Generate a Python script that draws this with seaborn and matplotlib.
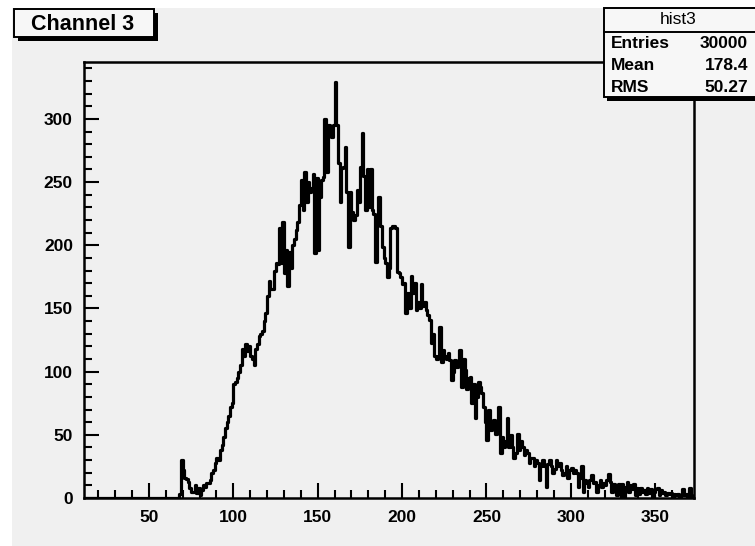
import numpy as np
import pandas as pd
import matplotlib
matplotlib.use("Agg")
import matplotlib.pyplot as plt
from matplotlib.patches import Rectangle
from matplotlib.ticker import MultipleLocator
import seaborn as sns

# ---- data (bin contents, 1-unit bins starting at channel 68) ----
first_channel = 68
counts = [
    3, 30, 22, 16, 15, 13, 8, 5, 5, 10,
    4, 8, 2, 6, 10, 9, 12, 12, 14, 20,
    22, 28, 32, 30, 38, 42, 48, 55, 60, 65,
    72, 75, 90, 92, 95, 100, 105, 118, 112, 122,
    116, 120, 112, 110, 105, 118, 122, 128, 130, 132,
    140, 146, 160, 172, 165, 165, 180, 186, 185, 214,
    186, 218, 178, 196, 168, 195, 182, 200, 205, 212,
    218, 232, 252, 228, 258, 234, 250, 242, 245, 256,
    194, 253, 196, 238, 252, 254, 300, 258, 295, 289,
    286, 295, 329, 295, 265, 234, 261, 262, 278, 242,
    199, 242, 226, 220, 224, 244, 234, 262, 289, 255,
    228, 260, 230, 260, 228, 225, 187, 218, 238, 215,
    199, 190, 186, 175, 182, 214, 215, 215, 214, 179,
    178, 175, 169, 170, 146, 162, 150, 176, 162, 170,
    149, 155, 150, 169, 152, 155, 149, 145, 141, 123,
    130, 112, 110, 112, 135, 108, 117, 112, 110, 115,
    109, 93, 100, 109, 104, 106, 117, 88, 110, 101,
    86, 95, 96, 75, 90, 63, 80, 92, 88, 83,
    72, 60, 46, 70, 54, 60, 62, 51, 58, 72,
    36, 48, 40, 45, 63, 40, 50, 40, 32, 36,
    51, 38, 45, 40, 34, 38, 36, 28, 32, 32,
    25, 30, 28, 14, 25, 30, 25, 9, 27, 30,
    25, 20, 23, 30, 25, 28, 22, 18, 20, 25,
    16, 22, 24, 20, 22, 20, 9, 16, 25, 5,
    14, 12, 9, 14, 18, 12, 13, 5, 10, 14,
    9, 12, 10, 14, 19, 13, 5, 11, 8, 2,
    11, 6, 11, 1, 9, 13, 5, 10, 7, 11,
    2, 8, 3, 8, 5, 6, 3, 8, 4, 7,
    1, 5, 7, 8, 2, 6, 4, 5, 2, 4,
    3, 4, 1, 3, 2, 3, 1, 2, 7, 2,
    3, 1, 8, 2, 1,
]
hist_lo, hist_hi = 12, 373
x_ticks = [50, 100, 150, 200, 250, 300, 350]
y_ticks = [0, 50, 100, 150, 200, 250, 300]
title_text = "Channel 3"
stats_name = "hist3"
stats_rows = [("Entries", "30000"), ("Mean", "178.4"), ("RMS", "50.27")]

df = pd.DataFrame({
    "channel": np.arange(first_channel, first_channel + len(counts)) + 0.5,
    "count": counts,
})

W, H = 755, 546
BG = "#f0f0f0"
sns.set_theme(style="white")
plt.rcParams["font.family"] = ["Liberation Sans", "DejaVu Sans"]

fig = plt.figure(figsize=(W / 100, H / 100), dpi=100, facecolor="white")

def px_rect(x0, y0, x1, y1, **kw):
    r = Rectangle((x0 / W, 1 - y1 / H), (x1 - x0) / W, (y1 - y0) / H,
                  transform=fig.transFigure, **kw)
    fig.add_artist(r)
    return r

# canvas background
px_rect(12, 8, W + 5, H + 5, facecolor=BG, edgecolor="none", zorder=0)

ax = fig.add_axes([84 / W, 1 - 498 / H, (694 - 84) / W, (498 - 62) / H])
ax.set_facecolor(BG)
ax.patch.set_alpha(0)

sns.histplot(data=df, x="channel", weights="count",
             bins=hist_hi - hist_lo, binrange=(hist_lo, hist_hi),
             element="step", fill=False,
             color="black", linewidth=2.3, ax=ax)

ax.set_xlim(11.5, 373)
ax.set_ylim(0, 345)
ax.set_xlabel("")
ax.set_ylabel("")
ax.set_xticks(x_ticks)
ax.set_yticks(y_ticks)
ax.xaxis.set_minor_locator(MultipleLocator(10))
ax.yaxis.set_minor_locator(MultipleLocator(10))
ax.tick_params(axis="both", which="both", bottom=True, left=True, top=False, right=False)
ax.tick_params(axis="both", which="major", direction="in", length=11, width=1.5,
               color="black", labelcolor="black", labelsize=12.5)
ax.tick_params(axis="both", which="minor", direction="in", length=6, width=1.5,
               color="black")
ax.tick_params(axis="x", which="major", pad=9)
ax.tick_params(axis="y", which="major", pad=8)
for lab in ax.get_xticklabels() + ax.get_yticklabels():
    lab.set_fontweight("bold")
for s in ax.spines.values():
    s.set_visible(True)
    s.set_color("black")
    s.set_linewidth(1.8)
ax.grid(False)

# title box with shadow
px_rect(18, 13, 158, 41, facecolor="black", edgecolor="none", zorder=5)
px_rect(14, 9, 154, 37, facecolor="#f7f7f7", edgecolor="black", linewidth=1.4, zorder=6)
fig.text(83 / W, 1 - 24 / H, title_text, ha="center", va="center",
         fontsize=15.5, fontweight="bold", color="black", zorder=7)

# stats box with shadow
px_rect(607, 11, W + 10, 101, facecolor="black", edgecolor="none", zorder=5)
px_rect(604, 8, W + 5, 97, facecolor="#f7f7f7", edgecolor="black", linewidth=1.4, zorder=6)
fig.add_artist(plt.Line2D([604 / W, 1], [1 - 32 / H, 1 - 32 / H],
                          transform=fig.transFigure, color="black", linewidth=1.4, zorder=7))
fig.text(678 / W, 1 - 20 / H, stats_name, ha="center", va="center",
         fontsize=12.5, color="black", zorder=8)
row_y = [44, 66, 87]
for (k, v), yy in zip(stats_rows, row_y):
    fig.text(611 / W, 1 - yy / H, k, ha="left", va="center",
             fontsize=12.5, fontweight="bold", color="black", zorder=8)
    fig.text(748 / W, 1 - yy / H, v, ha="right", va="center",
             fontsize=12.5, fontweight="bold", color="black", zorder=8)

fig.savefig("out.png", dpi=100, facecolor=fig.get_facecolor())
